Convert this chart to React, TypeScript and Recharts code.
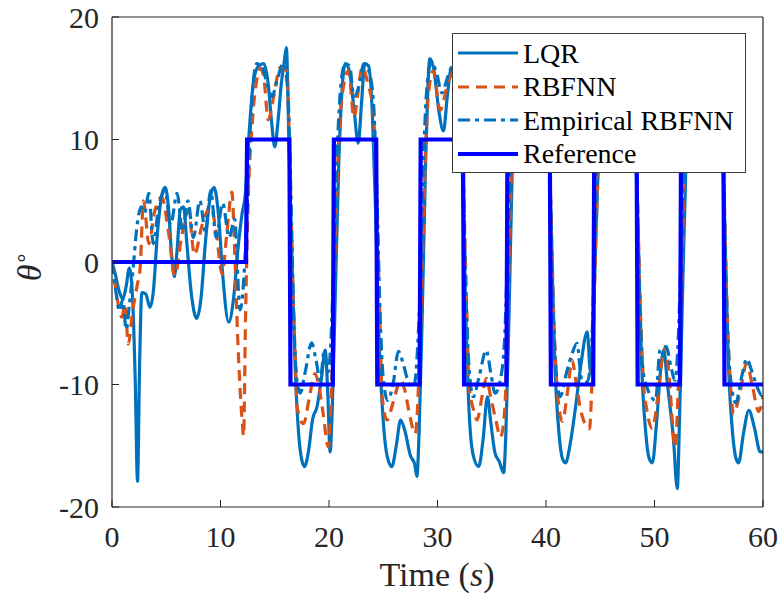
import React from 'react';
import { LineChart, Line, XAxis, YAxis } from 'recharts';

// time (s) / theta (deg)
const xTicks = [0, 10, 20, 30, 40, 50, 60];
const yTicks = [-20, -10, 0, 10, 20];

const lqr: [number, number][] = [
  [0, 0], [0.3, -1], [0.7, -2.5], [1.0, -3], [1.3, -2], [1.6, -0.5], [1.9, -3], [2.15, -10],
  [2.35, -17.9], [2.55, -8], [2.75, -2.5], [3.1, -2.6], [3.5, -3.7], [3.8, -2.5], [4.2, 2.5],
  [4.6, 5.5], [4.9, 6.1], [5.2, 4.5], [5.5, 0.5], [5.75, -1.2], [6.0, 1], [6.3, 4.3], [6.6, 4.5],
  [6.9, 1.5], [7.3, -2.5], [7.8, -4.6], [8.2, -3], [8.6, 1.5], [9.0, 5], [9.4, 6.1], [9.8, 4],
  [10.2, -1], [10.75, -4.9], [11.2, -3], [11.6, 1], [12.0, 4], [12.3, 5.6], [12.5, 8.6],
  [12.8, 12.5], [13.05, 14.8], [13.5, 16], [14.0, 16.2], [14.4, 14.5], [14.7, 11.5], [15.0, 9.4],
  [15.3, 11.5], [15.6, 14.5], [15.9, 16.5], [16.07, 17.5], [16.3, 10], [16.6, 0], [16.9, -9],
  [17.2, -14], [17.5, -16.2], [17.75, -16.7], [18.1, -15.5], [18.5, -12.8], [18.9, -11.8],
  [19.3, -9.5], [19.65, -7.2], [19.9, -11], [20.1, -15.5], [20.3, -12], [20.6, -2], [20.9, 8],
  [21.2, 14], [21.5, 16.2], [21.9, 15.5], [22.3, 12.5], [22.7, 9.7], [23.0, 13], [23.3, 16.2],
  [23.65, 16], [24.0, 12], [24.3, 4], [24.6, -6], [25.0, -13], [25.4, -16], [25.8, -16.7],
  [26.2, -15], [26.6, -12.9], [27.0, -13.8], [27.5, -15.8], [27.9, -16.5], [28.1, -17.5],
  [28.3, -14], [28.6, -4], [28.9, 8], [29.1, 14], [29.3, 16.6], [29.7, 15.5], [30.1, 12.5],
  [30.55, 10.7], [30.9, 13.5], [31.2, 15.6], [31.6, 16], [32.0, 14], [32.3, 7], [32.6, -4],
  [32.9, -12], [33.3, -15.8], [33.8, -16.7], [34.2, -14.5], [34.6, -11], [34.9, -13],
  [35.3, -15.6], [35.7, -16.3], [36.1, -17.2], [36.3, -14], [36.6, -4], [36.9, 8], [37.2, 14],
  [37.5, 16.2], [37.9, 15.5], [38.3, 12.5], [38.7, 10.5], [39.1, 13.5], [39.5, 16], [39.9, 15.5],
  [40.2, 11], [40.5, 2], [40.8, -8], [41.2, -14], [41.5, -16], [41.8, -16.4], [42.2, -15],
  [42.7, -12], [43.2, -8.5], [43.8, -5.7], [44.1, -9], [44.3, -6], [44.6, 2], [44.9, 10],
  [45.2, 15], [45.5, 16.2], [45.9, 15], [46.3, 12], [46.7, 10.5], [47.1, 13.5], [47.5, 16],
  [47.9, 15.5], [48.2, 11], [48.5, 2], [48.8, -8], [49.2, -14], [49.5, -16], [49.8, -16.4],
  [50.2, -13], [50.6, -8.5], [50.85, -7.2], [51.2, -10], [51.75, -14.5], [52.1, -18.5],
  [52.3, -13], [52.6, -2], [52.9, 8], [53.2, 14], [53.5, 16.2], [53.9, 15.5], [54.3, 12.5],
  [54.7, 10.5], [55.1, 13.5], [55.5, 16], [55.9, 15.5], [56.2, 11], [56.5, 2], [56.8, -8],
  [57.2, -14], [57.5, -16], [57.75, -16.4], [58.2, -14], [58.7, -12.1], [59.2, -13.5],
  [59.75, -15.5], [60, -15.5],
];

const rbfnn: [number, number][] = [
  [0, 0], [0.4, -2.5], [0.9, -4.5], [1.2, -3.5], [1.5, -6.7], [1.9, -4], [2.3, -2], [2.6, -0.4],
  [2.9, 5], [3.4, 1.5], [3.9, 4], [4.6, 5.3], [5.2, 2.5], [5.8, -1.1], [6.4, 2], [7.05, 4.2],
  [7.6, 0.6], [8.3, 3], [9.1, 4.5], [9.6, 2.5], [10.15, -1], [10.6, 2.5], [11.05, 5.7],
  [11.3, 1], [11.6, -6.5], [12.0, -13], [12.13, -14.2], [12.3, -5], [12.55, 5], [12.9, 11],
  [13.2, 14], [13.7, 15.8], [14.0, 15], [14.4, 11.6], [14.9, 13.5], [15.5, 15.9], [16.1, 15.6],
  [16.4, 8], [16.7, -3], [16.9, -8], [17.05, -11.8], [17.65, -13.2], [18.2, -11], [18.7, -9.1],
  [19.0, -9.8], [19.4, -12], [19.95, -15.1], [20.2, -11], [20.5, -1], [20.8, 8], [21.2, 13.5],
  [21.8, 15.6], [22.3, 11.8], [22.7, 14], [23.05, 15.9], [23.6, 14.5], [24.1, 12.1], [24.4, 5],
  [24.7, -5], [24.9, -11], [25.35, -12.9], [25.9, -11.5], [26.6, -9.65], [27.0, -10.5],
  [27.35, -12.1], [27.95, -14], [28.3, -9], [28.6, 0], [28.9, 9], [29.2, 14], [29.6, 15.6],
  [30.25, 12.4], [31.0, 14.8], [31.6, 15.5], [32.1, 13], [32.4, 6], [32.7, -4], [32.9, -10],
  [33.3, -12], [33.65, -12.9], [34.1, -11], [34.5, -9.5], [34.9, -11], [35.4, -13],
  [35.8, -14.3], [36.2, -12], [36.5, -3], [36.8, 7], [37.2, 13.5], [37.7, 15.6], [38.3, 12.3],
  [39.0, 15], [39.6, 15.5], [40.1, 13], [40.4, 6], [40.7, -4], [41.0, -10], [41.5, -13],
  [42.0, -10.5], [42.4, -8], [42.8, -10], [43.2, -12.1], [44.0, -13.6], [44.3, -8], [44.6, 2],
  [44.9, 10], [45.3, 14], [45.7, 15.6], [46.3, 12.3], [47.0, 15], [47.6, 15.5], [48.1, 13],
  [48.4, 6], [48.7, -4], [49.0, -10], [49.3, -12.1], [49.8, -13.6], [50.3, -11], [50.7, -8],
  [51.05, -6.9], [51.4, -10], [51.9, -15.1], [52.2, -10], [52.5, -1], [52.8, 8], [53.2, 13.5],
  [53.7, 15.6], [54.3, 12.3], [55.0, 15], [55.6, 15.5], [56.1, 13], [56.4, 6], [56.7, -4],
  [57.0, -10], [57.3, -12.4], [57.8, -11], [58.5, -8.3], [59.0, -10], [59.6, -12.2], [60, -11],
];

const empirical: [number, number][] = [
  [0, 0], [0.3, -2], [0.7, -4], [1.0, -3], [1.3, -5.5], [1.6, -3.5], [1.9, -1], [2.3, 2.9],
  [2.7, 4.5], [3.0, 4], [3.4, 5.6], [3.8, 1.5], [4.3, 4.5], [4.9, 5.8], [5.4, 3], [6.0, 5.6],
  [6.5, 2.5], [7.0, 5], [7.5, 2], [8.1, 5], [8.6, 2.5], [9.1, 5.85], [9.6, 2], [10.2, 4.8],
  [10.8, 2], [11.3, 3.5], [11.8, -3.9], [12.1, -2], [12.4, 3], [12.7, 10], [13.0, 14.5],
  [13.35, 16.2], [13.8, 16], [14.3, 14.5], [14.75, 13.5], [15.2, 14.8], [15.8, 16.2], [16.2, 14],
  [16.5, 5], [16.8, -6], [17.1, -10], [17.35, -10.7], [17.8, -9], [18.4, -6.6], [18.8, -8],
  [19.2, -9.65], [19.55, -7.3], [19.9, -9], [20.2, -6], [20.5, 2], [20.8, 10], [21.1, 14.5],
  [21.5, 16.2], [21.9, 16], [22.3, 13.5], [22.8, 14.5], [23.2, 16.2], [23.7, 15.5], [24.1, 13],
  [24.4, 6], [24.7, -4], [25.0, -9.5], [25.4, -11.3], [25.9, -10], [26.4, -7.3], [26.9, -8.5],
  [27.35, -9.9], [27.8, -10.2], [28.1, -8], [28.4, -2], [28.7, 8], [29.0, 14], [29.4, 16.3],
  [29.9, 15.5], [30.4, 13.8], [30.9, 15], [31.4, 16], [31.9, 15.5], [32.3, 10], [32.6, -2],
  [32.9, -8.5], [33.3, -11], [33.8, -9.5], [34.5, -7.2], [34.9, -9], [35.3, -10.7],
  [35.9, -9.1], [36.2, -6], [36.5, 2], [36.8, 10], [37.1, 14.5], [37.5, 16.2], [38.0, 15.5],
  [38.4, 13.8], [38.9, 15], [39.4, 16], [39.9, 15.5], [40.3, 10], [40.6, -2], [40.9, -8.5],
  [41.3, -11], [41.9, -9], [42.4, -7.5], [42.85, -6.65], [43.3, -9.65], [43.8, -9.8], [44.2, -7],
  [44.5, 2], [44.8, 10], [45.1, 14.5], [45.5, 16.2], [46.0, 15.5], [46.4, 13.8], [46.9, 15],
  [47.4, 16], [47.9, 15.5], [48.3, 10], [48.6, -2], [48.9, -8.5], [49.3, -10.2], [50.1, -11.3],
  [50.5, -7.2], [51.1, -6.9], [51.5, -8.5], [51.9, -9.65], [52.2, -6], [52.5, 2], [52.8, 10],
  [53.1, 14.5], [53.5, 16.2], [54.0, 15.5], [54.4, 13.8], [54.9, 15], [55.4, 16], [55.9, 15.5],
  [56.3, 10], [56.6, -2], [56.9, -8.5], [57.5, -11.5], [58.0, -9.5], [58.5, -7.9], [59.0, -9],
  [59.5, -10.3], [59.9, -10.9], [60, -10.8],
];

const reference: [number, number][] = [
  [0, 0], [12.35, 0], [12.45, 10], [16.35, 10], [16.45, -10], [20.35, -10], [20.45, 10],
  [24.35, 10], [24.45, -10], [28.35, -10], [28.45, 10], [32.35, 10], [32.45, -10], [36.35, -10],
  [36.45, 10], [40.35, 10], [40.45, -10], [44.35, -10], [44.45, 10], [48.35, 10], [48.45, -10],
  [52.35, -10], [52.45, 10], [56.35, 10], [56.45, -10], [60, -10],
];

const toPoints = (rows: [number, number][]) => rows.map(([t, v]) => ({ t, v }));

const SERIES = [
  { name: 'LQR', color: '#0072BD', width: 3.2, dash: undefined as string | undefined },
  { name: 'RBFNN', color: '#D95319', width: 3.2, dash: '11 7' },
  { name: 'Empirical RBFNN', color: '#0072BD', width: 3.2, dash: '12 5 4 5' },
  { name: 'Reference', color: '#0000FF', width: 4.2, dash: undefined as string | undefined },
];

const FONT = 'Liberation Serif';
const AXIS = '#262626';

// legend as an html overlay, labels are plain html text
function LegendBox() {
  return (
    <div
      style={{
        position: 'absolute',
        left: 452,
        top: 33,
        width: 294,
        height: 140,
        boxSizing: 'border-box',
        border: '1px solid #3c3c3c',
        background: '#fff',
        zIndex: 2,
        fontFamily: FONT,
        fontSize: 28,
        color: '#000',
      }}
    >
      {SERIES.map((s, i) => {
        const y = 19 + i * 33.5;
        return (
          <React.Fragment key={s.name}>
            <svg
              width={64}
              height={10}
              style={{ position: 'absolute', left: 3, top: y - 5, display: 'block' }}
            >
              <line
                x1={2}
                x2={62}
                y1={5}
                y2={5}
                stroke={s.color}
                strokeWidth={s.width}
                strokeDasharray={s.dash}
              />
            </svg>
            <span
              style={{
                position: 'absolute',
                left: 70,
                top: y - 13.5,
                lineHeight: '28px',
                whiteSpace: 'nowrap',
              }}
            >
              {s.name}
            </span>
          </React.Fragment>
        );
      })}
    </div>
  );
}

const tickStyle = { fontFamily: FONT, fontSize: 30, fill: AXIS };

export default function App() {
  return (
    <div
      style={{
        position: 'absolute',
        left: 0,
        top: 0,
        width: 780,
        height: 598,
        background: '#fff',
        fontFamily: FONT,
      }}
    >
      <LegendBox />
      <LineChart width={780} height={598} margin={{ top: 16, right: 16, bottom: 0, left: 0 }}>
        <XAxis
          dataKey="t"
          type="number"
          domain={[0, 60]}
          ticks={xTicks}
          allowDataOverflow
          height={91}
          tickSize={-7}
          tickMargin={26}
          tick={tickStyle}
          axisLine={{ stroke: AXIS, strokeWidth: 1.2 }}
          tickLine={{ stroke: AXIS }}
          label={() => (
            <text x={437} y={586} textAnchor="middle" fontFamily={FONT} fontSize={34} fill={AXIS}>
              Time (<tspan fontStyle="italic">s</tspan>)
            </text>
          )}
        />
        <XAxis
          xAxisId="top"
          orientation="top"
          type="number"
          domain={[0, 60]}
          ticks={xTicks}
          height={1}
          tickSize={-7}
          tickFormatter={() => ''}
          axisLine={{ stroke: AXIS, strokeWidth: 1.2 }}
          tickLine={{ stroke: AXIS }}
        />
        <YAxis
          type="number"
          domain={[-20, 20]}
          ticks={yTicks}
          allowDataOverflow
          width={112}
          tickSize={-7}
          tickMargin={20}
          tick={tickStyle}
          axisLine={{ stroke: AXIS, strokeWidth: 1.2 }}
          tickLine={{ stroke: AXIS }}
          label={() => (
            <text
              x={41}
              y={266}
              transform="rotate(-90 41 266)"
              textAnchor="middle"
              fontFamily={FONT}
              fontSize={34}
              fill={AXIS}
            >
              <tspan fontStyle="italic">θ</tspan>
              <tspan dy={-13} fontSize={22}>∘</tspan>
            </text>
          )}
        />
        <YAxis
          yAxisId="right"
          orientation="right"
          type="number"
          domain={[-20, 20]}
          ticks={yTicks}
          width={1}
          tickSize={-7}
          tickFormatter={() => ''}
          axisLine={{ stroke: AXIS, strokeWidth: 1.2 }}
          tickLine={{ stroke: AXIS }}
        />
        <Line
          data={toPoints(lqr)}
          dataKey="v"
          name="LQR"
          type="monotone"
          stroke={SERIES[0].color}
          strokeWidth={SERIES[0].width}
          dot={false}
          activeDot={false}
          isAnimationActive={false}
        />
        <Line
          data={toPoints(rbfnn)}
          dataKey="v"
          name="RBFNN"
          type="monotone"
          stroke={SERIES[1].color}
          strokeWidth={SERIES[1].width}
          strokeDasharray={SERIES[1].dash}
          dot={false}
          activeDot={false}
          isAnimationActive={false}
        />
        <Line
          data={toPoints(empirical)}
          dataKey="v"
          name="Empirical RBFNN"
          type="monotone"
          stroke={SERIES[2].color}
          strokeWidth={SERIES[2].width}
          strokeDasharray={SERIES[2].dash}
          dot={false}
          activeDot={false}
          isAnimationActive={false}
        />
        <Line
          data={toPoints(reference)}
          dataKey="v"
          name="Reference"
          type="linear"
          stroke={SERIES[3].color}
          strokeWidth={SERIES[3].width}
          dot={false}
          activeDot={false}
          isAnimationActive={false}
        />
      </LineChart>
    </div>
  );
}
